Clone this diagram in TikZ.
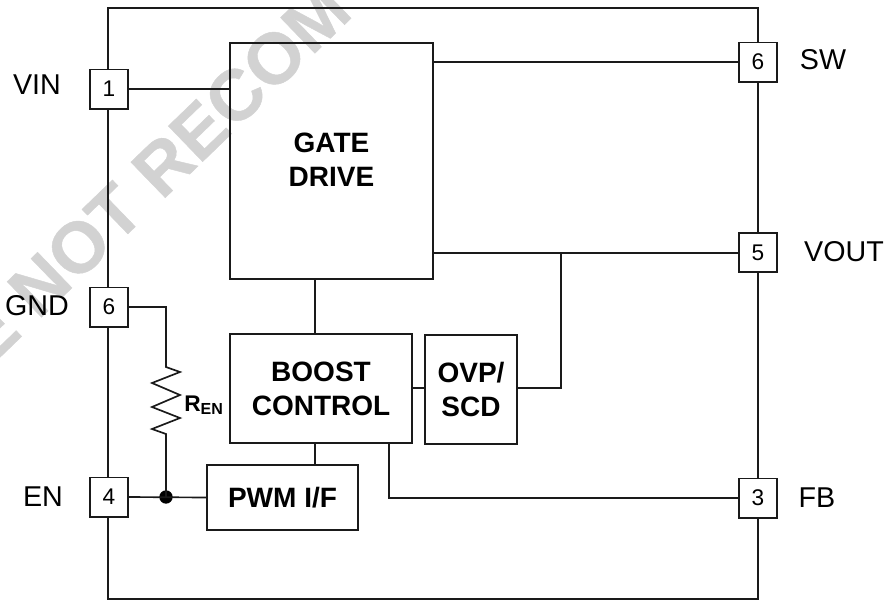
\documentclass[tikz,border=0pt]{standalone}
\usepackage{fontspec}
\setmainfont{Liberation Sans}
\definecolor{ink}{HTML}{1A1A1A}
\definecolor{wm}{HTML}{D2D2D2}
\tikzset{
  wire/.style={draw=ink,line width=1.25pt,line join=miter},
  block/.style={wire,rectangle,minimum width=#1,inner sep=0pt,align=center,font=\fontsize{21}{25.5}\selectfont\bfseries,text=black},
  pin/.style={wire,rectangle,fill=white,minimum width=28.5pt,minimum height=29.5pt,inner sep=0pt,font=\fontsize{17}{20}\selectfont,text=black},
  pinlabel/.style={inner sep=0pt,font=\fontsize{21.5}{25}\selectfont,text=black},
  junction/.style={circle,fill=black,minimum size=10pt,inner sep=0pt},
}
\begin{document}
\begin{tikzpicture}[x=0.75pt,y=-0.75pt]
\useasboundingbox (0,0) rectangle (886,601);
\begin{scope}
\clip (0,0) rectangle (886,601);
\node[rotate=44,anchor=base west,inner sep=0pt,text=wm,font=\fontsize{54}{60}\selectfont\bfseries] (mark) at (-11,368) {\addfontfeature{FakeBold=0.6}E NOT RECOM};
\end{scope}
% outer package
\node[wire,rectangle,minimum width=487.5pt,minimum height=443pt,inner sep=0pt] (chip) at (433,303.5) {};
% blocks
\node[block=152pt,minimum height=177pt] (gate) at (331.5,161) {};
\node[inner sep=0pt,align=center,font=\fontsize{21}{25.5}\selectfont\bfseries] (gatetext) at (331.5,160) {GATE\\DRIVE};
\node[block=136.5pt,minimum height=82pt] (boost) at (321,388.5) {BOOST\\CONTROL};
\node[block=69pt,minimum height=82pt] (ovp) at (471,389.5) {OVP/\\SCD};
\node[block=113pt,minimum height=49pt] (pwm) at (282.5,497.5) {PWM I/F};
% pins
\node[pin] (p1) at (109,89) {1};
\node[pin] (p6l) at (109,307) {6};
\node[pin] (p4) at (109,497) {4};
\node[pin] (p6r) at (758,62) {6};
\node[pin] (p5) at (758,252.5) {5};
\node[pin] (p3) at (758,498) {3};
% pin labels
\node[pinlabel] (lvin) at (37,85) {VIN};
\node[pinlabel] (lgnd) at (37,306) {GND};
\node[pinlabel] (len) at (43,497) {EN};
\node[pinlabel] (lsw) at (823,60) {SW};
\node[pinlabel] (lvout) at (844,252) {VOUT};
\node[pinlabel] (lfb) at (817,498) {FB};
% junctions and corners
\node[junction] (dot) at (166,497) {};
\coordinate (vj) at (561,253);
\coordinate (ovpin) at (517,388);
\coordinate (boostout) at (412,388);
\coordinate (ovpleft) at (425,388);
\coordinate (rtop) at (166,367);
\coordinate (rbot) at (166,434);
% wires
\draw[wire] (p1.east) -- (gate.west |- p1.east);
\draw[wire] (gate.east |- p6r.west) -- (p6r.west);
\draw[wire] (gate.east |- vj) -- (p5.west |- vj);
\draw[wire] (vj) |- (ovpin);
\draw[wire] (boostout) -- (ovpleft);
\draw[wire] (315,279) -- (315,334);
\draw[wire] (315,443) -- (315,465);
\draw[wire] (389,443) |- (p3.west);
\draw[wire] (p4.east) -- (pwm.west);
\draw[wire] (p6l.east) -| (rtop)
  -- (180,372) -- (152,383) -- (180,395) -- (152,407) -- (180,418) -- (152,429) -- (rbot) -- (dot.center);
\node[anchor=base west,inner sep=0pt,font=\fontsize{17}{20}\selectfont\bfseries] (ren) at (184,411) {R\raisebox{-2.5pt}{\fontsize{12}{14}\selectfont EN}};
\end{tikzpicture}
\end{document}
